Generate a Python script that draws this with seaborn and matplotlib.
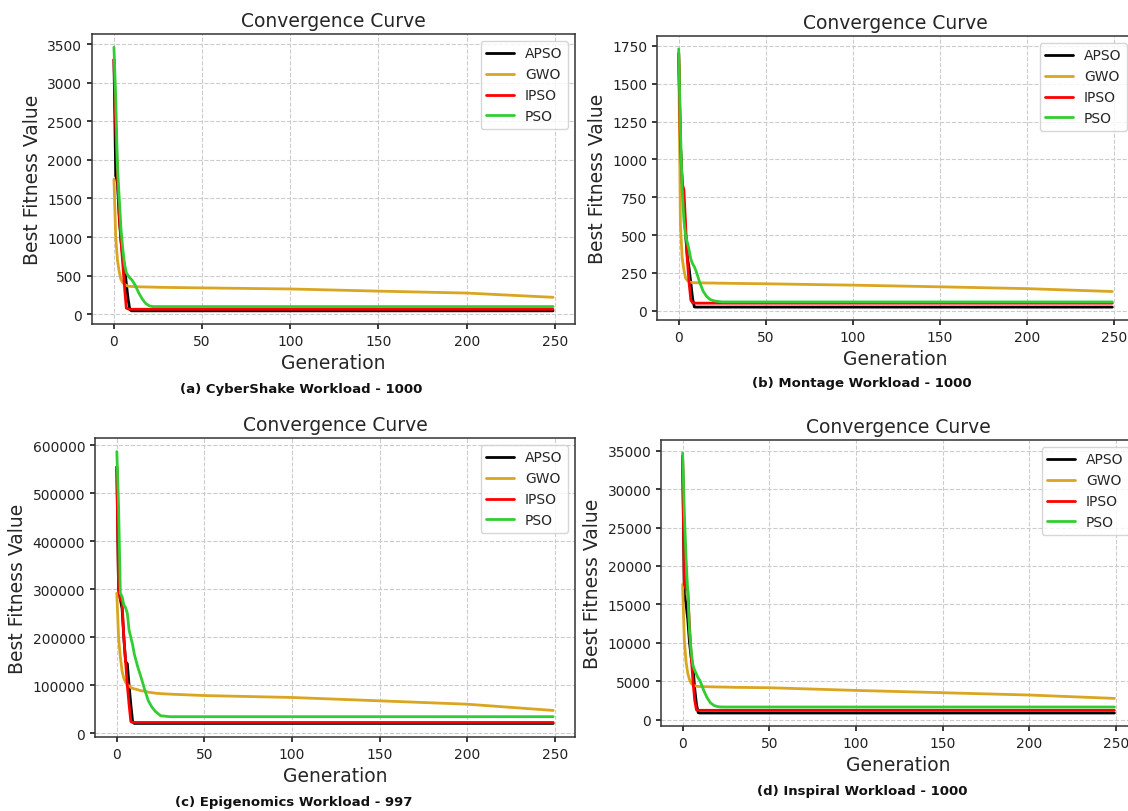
import numpy as np
import pandas as pd
import matplotlib
matplotlib.use('Agg')
import matplotlib.pyplot as plt
import seaborn as sns

gens = [0, 1, 2, 3, 4, 5, 6, 7, 8, 9, 10, 12, 14, 16, 18, 20, 22, 25, 30, 50, 100, 150, 200, 249]
algorithms = ['APSO', 'GWO', 'IPSO', 'PSO']
colors = ['black', '#DAA520', 'red', '#32CD32']

# (a) CyberShake
apso_a = [3300, 1800, 1700, 1250, 950, 750, 620, 400, 200, 60, 45, 45, 45, 45, 45, 45, 45, 45, 45, 45, 45, 45, 45, 45]
gwo_a = [1750, 1000, 700, 550, 450, 410, 390, 375, 365, 362, 360, 358, 356, 355, 354, 353, 352, 350, 348, 342, 328, 300, 275, 220]
ipso_a = [3300, 2450, 1800, 1300, 950, 650, 350, 80, 70, 66, 65, 65, 65, 65, 65, 65, 65, 65, 65, 65, 65, 65, 65, 65]
pso_a = [3460, 2800, 1900, 1500, 1100, 850, 650, 540, 500, 470, 450, 380, 280, 200, 140, 110, 100, 100, 100, 100, 100, 100, 100, 100]

# (b) Montage
apso_b = [1700, 1100, 850, 700, 500, 350, 280, 180, 80, 25, 24, 24, 24, 24, 24, 24, 24, 24, 24, 24, 24, 24, 24, 24]
gwo_b = [1700, 570, 350, 270, 215, 200, 192, 188, 186, 185, 185, 184, 184, 183, 183, 183, 182, 182, 181, 178, 169, 158, 146, 127]
ipso_b = [1700, 1100, 840, 800, 560, 330, 180, 70, 52, 51, 50, 50, 50, 50, 50, 50, 50, 50, 50, 50, 50, 50, 50, 50]
pso_b = [1730, 1200, 800, 600, 490, 450, 400, 340, 310, 290, 262, 190, 130, 95, 75, 66, 62, 58, 58, 58, 58, 58, 58, 58]

# (c) Epigenomics
apso_c = [555000, 300000, 280000, 260000, 200000, 150000, 145000, 100000, 60000, 25000, 21000, 21000, 21000, 21000,
          21000, 21000, 21000, 21000, 21000, 21000, 21000, 21000, 21000, 21000]
gwo_c = [292000, 200000, 160000, 130000, 115000, 107000, 102000, 99000, 96000, 94000, 93000, 91000, 89000, 88000,
         86000, 85000, 84000, 83000, 82000, 79000, 75000, 68000, 61000, 48000]
ipso_c = [555000, 300000, 280000, 275000, 200000, 150000, 100000, 60000, 25000, 23000, 23000, 23000, 23000, 23000,
          23000, 23000, 23000, 23000, 23000, 23000, 23000, 23000, 23000, 23000]
pso_c = [587000, 474000, 292000, 285000, 268000, 262000, 250000, 215000, 200000, 185000, 165000, 138000, 115000, 90000,
         68000, 55000, 46000, 37000, 35000, 35000, 35000, 35000, 35000, 35000]

# (d) Inspiral
apso_d = [34300, 16300, 15000, 13000, 10000, 8000, 6800, 4000, 2000, 900, 860, 860, 860, 860, 860, 860, 860, 860,
          860, 860, 860, 860, 860, 860]
gwo_d = [17600, 10300, 7500, 6000, 5200, 4700, 4500, 4400, 4350, 4320, 4300, 4290, 4280, 4270, 4260, 4250, 4240,
         4230, 4200, 4150, 3800, 3500, 3200, 2760]
ipso_d = [34300, 17600, 17000, 16800, 12000, 8100, 5000, 2500, 1250, 1210, 1210, 1210, 1210, 1210, 1210, 1210, 1210,
          1210, 1210, 1210, 1210, 1210, 1210, 1210]
pso_d = [34700, 27000, 21000, 16500, 11500, 8800, 7000, 6400, 5900, 5400, 5100, 3900, 2900, 2200, 1850, 1700, 1650,
         1640, 1640, 1640, 1640, 1640, 1640, 1640]

captions = ['(a) CyberShake Workload - 1000', '(b) Montage Workload - 1000',
            '(c) Epigenomics Workload - 997', '(d) Inspiral Workload - 1000']

sns.set_theme(style='ticks')
plt.rcParams['font.family'] = ['DejaVu Sans']

W, H = 1128, 812
fig = plt.figure(figsize=(W / 100, H / 100), dpi=100)


def rect(left, right, top, bottom):
    return [left / W, (H - bottom) / H, (right - left) / W, (bottom - top) / H]


# right-hand panels run slightly past the figure edge, as in the reference
panels = [
    (rect(92, 575, 35, 325), [apso_a, gwo_a, ipso_a, pso_a], (301, 390)),
    (rect(657, 1134, 37, 321), [apso_b, gwo_b, ipso_b, pso_b], (862, 383)),
    (rect(95, 575, 439, 738), [apso_c, gwo_c, ipso_c, pso_c], (294, 803)),
    (rect(661, 1136, 441, 727), [apso_d, gwo_d, ipso_d, pso_d], (862, 792)),
]

for (r, series, cap_pos), caption in zip(panels, captions):
    ax = fig.add_axes(r)
    frames = []
    for name, vals in zip(algorithms, series):
        frames.append(pd.DataFrame({'Generation': gens, 'Fitness': vals, 'Algorithm': name}))
    df = pd.concat(frames, ignore_index=True)
    sns.lineplot(data=df, x='Generation', y='Fitness', hue='Algorithm', palette=colors,
                 linewidth=2, estimator=None, sort=False, ax=ax)
    ax.grid(True, linestyle='--', color='#cccccc', linewidth=0.8)
    ax.set_axisbelow(True)
    ax.set_title('Convergence Curve', fontsize=13.5)
    ax.set_xlabel('Generation', fontsize=13.5)
    ax.set_ylabel('Best Fitness Value', fontsize=13.5)
    ax.tick_params(labelsize=10, colors='#222222', length=3.5)
    for s in ax.spines.values():
        s.set_color('#333333')
        s.set_linewidth(1.1)
    ax.legend(loc='upper right', fontsize=10, title=None, frameon=True)
    fig.text(cap_pos[0] / W, 1 - cap_pos[1] / H, caption, ha='center', va='center',
             fontsize=9.5, fontweight='bold', color='#111111')

fig.savefig('out.png', dpi=100)
